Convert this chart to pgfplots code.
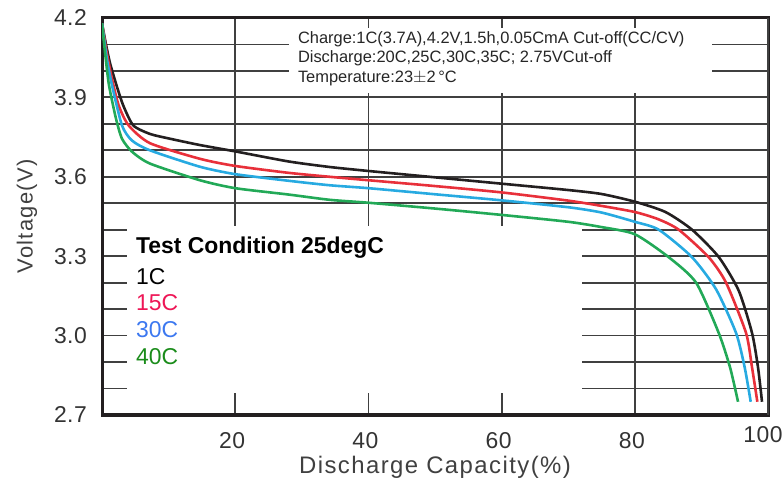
\documentclass[border=0pt]{standalone}
\usepackage{fontspec}
\setmainfont{Liberation Sans}
\newfontfamily\axfont{Liberation Sans}[LetterSpace=6]
\newfontfamily\tkfont{Liberation Sans}[LetterSpace=2]
\usepackage{pgfplots}
\pgfplotsset{compat=1.18}
\definecolor{gridc}{HTML}{404040}
\definecolor{c1}{HTML}{231F20}
\definecolor{c15}{HTML}{E8303A}
\definecolor{c30}{HTML}{27AAE1}
\definecolor{c40}{HTML}{22A957}
\definecolor{t15}{HTML}{EE1656}
\definecolor{t30}{HTML}{3C78F0}
\definecolor{t40}{HTML}{1A8C1A}
\begin{document}
\begin{tikzpicture}
\useasboundingbox (0,0) rectangle (782bp,483bp);
\begin{axis}[
    at={(102bp,68bp)}, anchor=south west,
    scale only axis, width=666bp, height=397bp,
    xmin=0, xmax=100, ymin=2.7, ymax=4.2,
    xtick={20,40,60,80},
    extra x ticks={100},
    extra x tick style={xticklabel style={xshift=-2bp, yshift=6bp}},
    ytick={2.7,3.0,3.3,3.6,3.9,4.2},
    minor ytick={2.8,2.9,3.1,3.2,3.4,3.5,3.7,3.8,4.0,4.1},
    xmajorgrids, ymajorgrids, yminorgrids,
    major grid style={gridc, line width=1.8bp},
    minor grid style={gridc, line width=1.8bp},
    major tick length=0pt, minor tick length=0pt,
    axis line style={c1, line width=3bp},
    /pgf/number format/assume math mode=true,
    yticklabel style={/pgf/number format/fixed, /pgf/number format/fixed zerofill, /pgf/number format/precision=1,
        font=\tkfont\fontsize{23}{25}\selectfont, text=black!80, anchor=east, inner sep=0pt, xshift=-15bp},
    xticklabel style={font=\tkfont\fontsize{23}{25}\selectfont, text=black!80, anchor=center, yshift=-26bp, xshift=-3bp},
    xlabel={Discharge Capacity(\%)},
    ylabel={Voltage(V)},
    xlabel style={font=\axfont\fontsize{24}{26}\selectfont, text=black!75, at={(axis description cs:0.5,0)}, anchor=center, yshift=-52bp},
    ylabel style={font=\axfont\fontsize{22}{24}\selectfont, text=black!75, at={(axis description cs:0,0.5)}, anchor=center, yshift=75bp},
]
% white boxes over the grid
\fill[white] (axis cs:28.1,3.918) rectangle (axis cs:91.6,4.163);
\fill[white] (axis cs:3.75,2.783) rectangle (axis cs:72.1,3.415);

\addplot[c1, line width=2.6bp, smooth, tension=0.4] coordinates {
(0,4.18) (0.6,4.10) (1.2,4.03) (2.2,3.944) (3.2,3.869) (4.7,3.794) (7.2,3.762)
(10,3.745) (14.7,3.72) (20,3.696) (28,3.658) (34.2,3.637) (40,3.622) (50,3.598) (60,3.574) (70,3.55)
(75,3.535) (80,3.506) (84.6,3.467) (88.6,3.40) (92.6,3.297) (95.6,3.17) (97.6,3.01)
(98.5,2.88) (99.1,2.75)};
\addplot[c15, line width=2.6bp, smooth, tension=0.4] coordinates {
(0,4.18) (0.7,4.07) (1.5,3.97) (2.5,3.87) (4.0,3.794) (7.2,3.727) (14.7,3.668)
(20,3.641) (28,3.615) (34.2,3.600) (40,3.587) (50,3.565) (60,3.541) (70,3.51) (75,3.49)
(80,3.467) (83.5,3.44) (86.6,3.40) (91.1,3.296) (93.7,3.20) (96.7,3.01)
(97.6,2.88) (98.4,2.75)};
\addplot[c30, line width=2.6bp, smooth, tension=0.4] coordinates {
(0,4.18) (0.7,4.05) (1.5,3.946) (3.0,3.794) (4.5,3.737) (7.2,3.70) (14.7,3.638)
(20,3.61) (28,3.585) (34.2,3.568) (40,3.557) (50,3.534) (60,3.511) (70,3.485) (75,3.465)
(80,3.43) (83.6,3.40) (88.6,3.296) (92.2,3.175) (95.2,3.01) (96.5,2.88) (97.4,2.75)};
\addplot[c40, line width=2.6bp, smooth, tension=0.4] coordinates {
(0,4.18) (0.5,4.06) (1.05,3.946) (2.1,3.82) (3.0,3.744) (4.5,3.695) (7.2,3.65)
(14.7,3.587) (20,3.557) (28,3.533) (34.2,3.513) (40,3.502) (50,3.48) (60,3.456) (70,3.43)
(75,3.41) (80,3.383) (85.1,3.296) (89.2,3.20) (92.6,3.01) (94.3,2.88) (95.5,2.75)};

% test conditions
\begin{scope}[every node/.style={anchor=west, inner sep=0pt, font=\fontsize{16.5}{18}\selectfont, text=black!85}]
\node at (axis cs:29.4,4.118) {Charge:1C(3.7A),4.2V,1.5h,0.05CmA Cut-off(CC/CV)};
\node at (axis cs:29.4,4.049) {Discharge:20C,25C,30C,35C; 2.75VCut-off};
\node at (axis cs:29.4,3.973) {Temperature:23$\pm$2\,\textdegree C};
\end{scope}

% legend
\begin{scope}[every node/.style={anchor=west, inner sep=0pt, font=\fontsize{23}{26}\selectfont}]
\node[font=\fontsize{23}{26}\selectfont\bfseries] at (axis cs:5.1,3.333) {Test Condition 25degC};
\node[text=black] at (axis cs:5.1,3.223) {1C};
\node[text=t15] at (axis cs:5.1,3.124) {15C};
\node[text=t30] at (axis cs:5.1,3.022) {30C};
\node[text=t40] at (axis cs:5.1,2.921) {40C};
\end{scope}
\end{axis}
\end{tikzpicture}
\end{document}
